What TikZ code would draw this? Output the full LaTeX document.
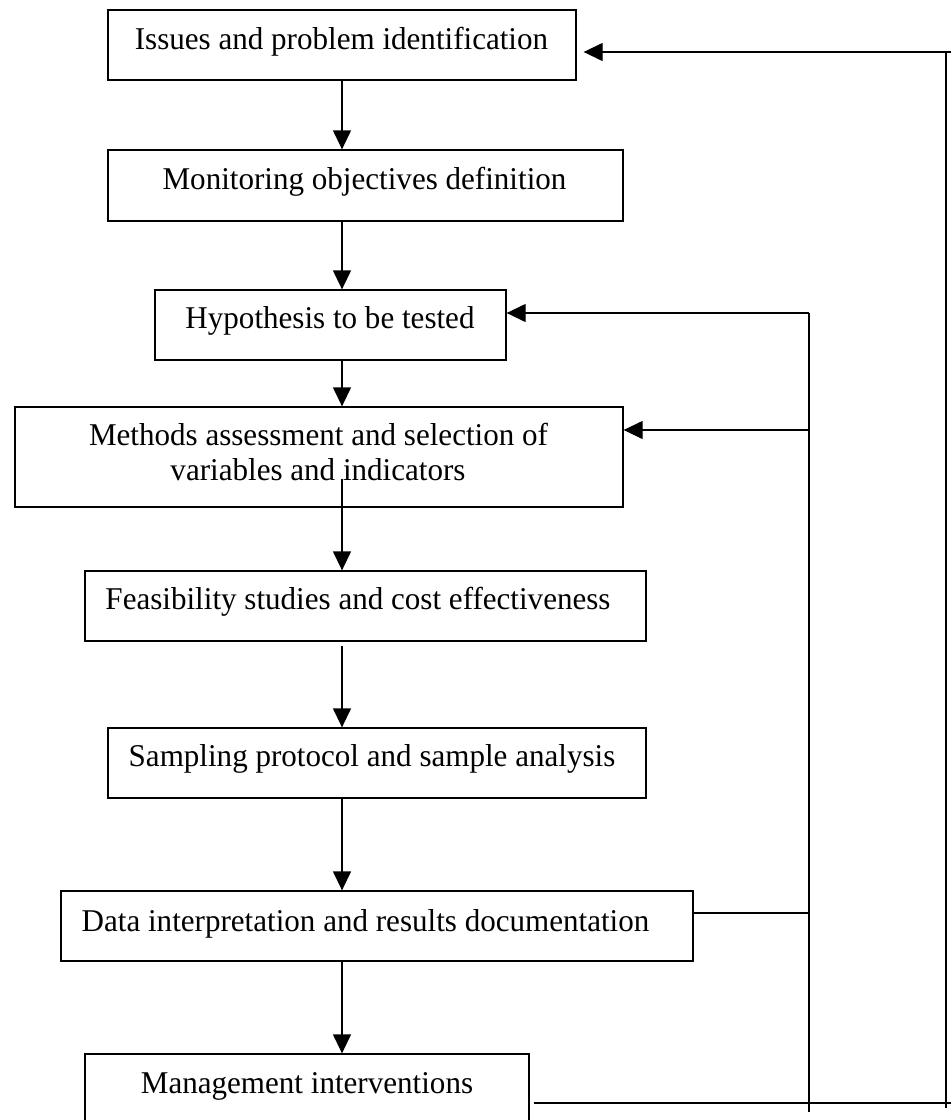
\documentclass[tikz,border=0pt]{standalone}
\usepackage{fontspec}
\setmainfont{Liberation Serif}
\usetikzlibrary{arrows.meta,calc}

% slightly narrowed serif labels
\newcommand{\stagetext}[1]{\scalebox{0.98}[1]{#1}}

\begin{document}
\begin{tikzpicture}[x=1pt,y=-1pt,
    stagebox/.style={draw=black, line width=1.3pt, rectangle, inner sep=0pt},
    lbl/.style={inner sep=0pt, anchor=base, font=\fontsize{31.7}{36}\selectfont},
    conn/.style={line width=1.3pt},
    arr/.style={conn, -{Triangle[length=19pt,width=18pt]}}]
  \useasboundingbox (0,0) rectangle (951,1120);
  \clip (0,0) rectangle (951,1120);

  % stage boxes
  \node[stagebox, minimum width=468pt, minimum height=70pt] (b1) at (342,45) {};
  \node[stagebox, minimum width=515pt, minimum height=71pt] (b2) at (365.5,185.5) {};
  \node[stagebox, minimum width=351pt, minimum height=70pt] (b3) at (330.5,325) {};
  \node[stagebox, minimum width=608pt, minimum height=100pt] (b4) at (319,457) {};
  \node[stagebox, minimum width=561pt, minimum height=70pt] (b5) at (365.5,606) {};
  \node[stagebox, minimum width=538pt, minimum height=70pt] (b6) at (377,763) {};
  \node[stagebox, minimum width=632pt, minimum height=70pt] (b7) at (377,926) {};
  \node[stagebox, minimum width=444pt, minimum height=76pt] (b8) at (307,1092) {};

  % stage labels
  \node[lbl] (t1) at (341.5,49) {\stagetext{Issues and problem identification}};
  \node[lbl] (t2) at (364.5,189.3) {\stagetext{Monitoring objectives definition}};
  \node[lbl] (t3) at (330,328.3) {\stagetext{Hypothesis to be tested}};
  \node[lbl] (t4a) at (318.5,445) {\stagetext{Methods assessment and selection of}};
  \node[lbl] (t4b) at (318,480.7) {\stagetext{variables and indicators}};
  \node[lbl] (t5) at (358,609.3) {\stagetext{Feasibility studies and cost effectiveness}};
  \node[lbl] (t6) at (372,766.7) {\stagetext{Sampling protocol and sample analysis}};
  \node[lbl] (t7) at (365.5,931.7) {\stagetext{Data interpretation and results documentation}};
  \node[lbl] (t8) at (307,1093.3) {\stagetext{Management interventions}};

  % main downward flow
  \draw[arr] (b1.south) -- (b1.south |- b2.north);
  \draw[arr] (b1.south |- b2.south) -- (b1.south |- b3.north);
  \draw[arr] (b1.south |- b3.south) -- (b1.south |- b4.north);
  \draw[arr] ($(b1.south |- b4.south)+(0,-29)$) -- (b1.south |- b5.north);
  \draw[arr] ($(b1.south |- b5.south)+(0,4)$) -- (b1.south |- b6.north);
  \draw[arr] (b1.south |- b6.south) -- (b1.south |- b7.north);
  \draw[arr] (b1.south |- b7.south) -- (b1.south |- b8.north);

  % feedback rails
  \coordinate (ia) at (809,313);
  \coordinate (ib) at (809,430);
  \coordinate (ic) at (809,913);
  \coordinate (iend) at (809,1112);
  \coordinate (oa) at (946,52);
  \coordinate (oaend) at (951,52);
  \coordinate (oend) at (946,1108);
  \coordinate (ba) at (951,1103);

  \draw[conn] (ia) -- (iend);
  \draw[conn] (oa) -- (oend);
  \draw[arr] (ia) -- (b3.east |- ia);
  \draw[arr] (ib) -- (b4.east |- ib);
  \draw[arr] (oaend) -- ($(b1.east |- oa)+(7,0)$);
  \draw[conn] (b7.east |- ic) -- (ic);
  \draw[line width=2pt] ($(b8.east |- ba)+(4,0)$) -- (ba);
\end{tikzpicture}
\end{document}
